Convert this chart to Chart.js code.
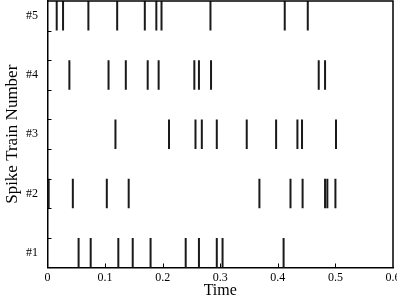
<!DOCTYPE html>
<html>
<head>
<meta charset="utf-8">
<script src="https://cdn.jsdelivr.net/npm/chart.js@4"></script>
<style>
  html, body { margin: 0; padding: 0; background: #fff; }
  #wrap { width: 397px; height: 300px; }
</style>
</head>
<body>
<div id="wrap"><canvas id="spikeChart" width="397" height="300"></canvas></div>
<script>
// spike times
const train1 = [0.054, 0.075, 0.123, 0.148, 0.179, 0.240, 0.263, 0.294, 0.304, 0.410];
const train2 = [0.002, 0.044, 0.103, 0.141, 0.368, 0.422, 0.443, 0.482, 0.486, 0.500];
const train3 = [0.118, 0.211, 0.257, 0.268, 0.294, 0.346, 0.397, 0.434, 0.442, 0.501];
const train4 = [0.038, 0.106, 0.136, 0.174, 0.193, 0.255, 0.263, 0.284, 0.471, 0.482];
const train5 = [0.016, 0.027, 0.071, 0.121, 0.169, 0.189, 0.198, 0.283, 0.412, 0.452];
const trains = [train1, train2, train3, train4, train5];
const trainLabels = ['#1', '#2', '#3', '#4', '#5'];
const xTicks = [0, 0.1, 0.2, 0.3, 0.4, 0.5, 0.6];

// each spike: vertical segment, null point breaks the line
const points = [];
trains.forEach((train, i) => {
    train.forEach(t => {
        points.push({x: t, y: 2 * i});
        points.push({x: t, y: 2 * i + 1});
        points.push({x: t, y: null});
    });
});

const serif = "'Liberation Serif', 'Times New Roman', serif";

// frame on top/right + small inward tick marks
const framePlugin = {
    id: 'frame',
    afterDatasetsDraw(chart) {
        const {ctx, chartArea: a, scales} = chart;
        ctx.save();
        ctx.strokeStyle = '#000';
        ctx.lineWidth = 1.5;
        ctx.beginPath();
        ctx.moveTo(a.left, a.top);
        ctx.lineTo(a.right, a.top);
        ctx.lineTo(a.right, a.bottom);
        ctx.stroke();
        ctx.lineWidth = 1;
        ctx.beginPath();
        for (let v = 1; v <= 8; v++) {
            const y = Math.round(scales.y.getPixelForValue(v)) + 0.5;
            ctx.moveTo(a.left, y);
            ctx.lineTo(a.left + 4, y);
        }
        xTicks.slice(1, -1).forEach(v => {
            const x = Math.round(scales.x.getPixelForValue(v)) + 0.5;
            ctx.moveTo(x, a.bottom);
            ctx.lineTo(x, a.bottom - 4);
        });
        ctx.stroke();
        ctx.restore();
    }
};

const ctx = document.getElementById('spikeChart').getContext('2d');
new Chart(ctx, {
    type: 'scatter',
    data: {
        datasets: [{
            data: points,
            showLine: true,
            spanGaps: false,
            clip: false,
            borderColor: '#1a1a1a',
            borderWidth: 2,
            borderCapStyle: 'butt',
            pointRadius: 0,
            pointHoverRadius: 0
        }]
    },
    options: {
        responsive: false,
        animation: false,
        layout: {
            padding: {left: 0, right: 4, top: 1, bottom: 0}
        },
        plugins: {
            legend: {display: false},
            tooltip: {enabled: false}
        },
        scales: {
            x: {
                type: 'linear',
                min: 0,
                max: 0.6,
                afterBuildTicks(scale) {
                    scale.ticks = xTicks.map(v => ({value: v}));
                },
                afterFit(scale) {
                    scale.height = 32.5;
                    scale.paddingLeft = 0;
                    scale.paddingRight = 0;
                },
                grid: {display: false, drawTicks: false},
                border: {display: true, color: '#000', width: 1.5},
                ticks: {
                    color: '#000',
                    padding: 3,
                    font: {family: serif, size: 12},
                    callback: v => String(v)
                },
                title: {
                    display: true,
                    text: 'Time',
                    color: '#000',
                    padding: {top: 0, bottom: 0},
                    font: {family: serif, size: 16}
                }
            },
            y: {
                type: 'linear',
                min: 0,
                max: 9,
                afterBuildTicks(scale) {
                    scale.ticks = trainLabels.map((_, i) => ({value: 2 * i + 0.5}));
                },
                afterFit(scale) {
                    scale.width = 47.5;
                    scale.paddingTop = 0;
                    scale.paddingBottom = 0;
                },
                grid: {display: false, drawTicks: false},
                border: {display: true, color: '#000', width: 1.5},
                ticks: {
                    color: '#000',
                    padding: 9.5,
                    font: {family: serif, size: 12},
                    callback: v => trainLabels[Math.round((v - 0.5) / 2)]
                },
                title: {
                    display: true,
                    text: 'Spike Train Number',
                    color: '#000',
                    padding: {top: 2, bottom: 0},
                    font: {family: serif, size: 17}
                }
            }
        }
    },
    plugins: [framePlugin]
});
</script>
</body>
</html>
